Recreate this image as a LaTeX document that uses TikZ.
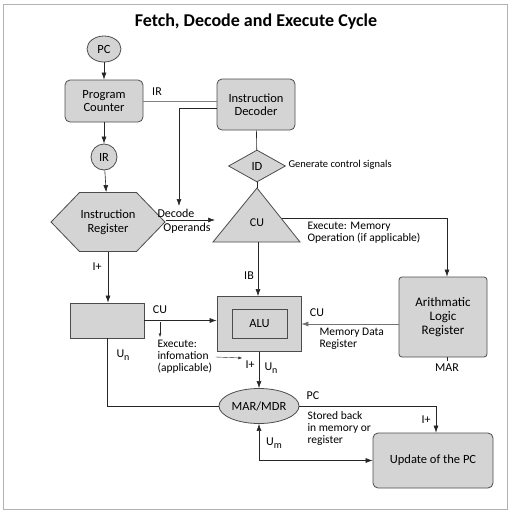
\documentclass[tikz,border=0pt]{standalone}
\usepackage{fontspec}
\setmainfont{Carlito}
\usetikzlibrary{shapes.geometric,shapes.symbols,arrows.meta}
\newcommand{\lowsub}[1]{\raisebox{-2.5pt}{\fontsize{10}{10}\selectfont #1}}

\begin{document}
\begin{tikzpicture}[x=1pt,y=-1pt,
    >={Latex[length=7pt,width=5pt]},
    line/.style={black!85,semithick},
    tiny/.style={black!85,thin,-{Latex[length=3.5pt,width=3pt]}},
    shade/.style={draw=black!70,fill=black!17,thick},
    blk/.style={shade,align=center,font=\fontsize{12.5}{13.5}\selectfont},
    rblk/.style={blk,rounded corners=5pt},
    lbl/.style={font=\fontsize{12}{13}\selectfont},
    note/.style={font=\fontsize{11.5}{12}\selectfont,align=left}]
  \useasboundingbox (0,0) rectangle (512,512);
  \draw[black!30,thick] (3,4) rectangle (507,509);
  \node[font=\bfseries\fontsize{18}{20}\selectfont] (title) at (256,22) {Fetch, Decode and Execute Cycle};

  \node[blk,ellipse,minimum width=34pt,minimum height=26pt,inner sep=1pt] (pc) at (104,49) {PC};
  \node[rblk,minimum width=78pt,minimum height=42pt] (prog) at (104,101) {Program\\Counter};
  \node[rblk,minimum width=78pt,minimum height=51pt] (dec) at (256,104.5) {Instruction\\Decoder};
  \node[blk,circle,minimum size=26pt,inner sep=1pt] (ir) at (104,157) {IR};
  \node[blk,signal,signal to=east and west,signal pointer angle=92,minimum width=93pt,minimum height=59pt,inner sep=1pt] (ireg) at (108,222) {Instruction\\Register};
  \node[blk,diamond,aspect=1.8,minimum width=57pt,minimum height=32pt,inner sep=0pt] (id) at (257,166) {ID};
  \draw[shade] (257,188) coordinate (cuA) -- (300,242) coordinate (cuR) -- (213,242) coordinate (cuL) -- cycle;
  \node[lbl] (cu) at (257,223) {CU};
  \node[shade,minimum width=84pt,minimum height=55pt] (alu) at (259,324) {};
  \node[blk,minimum width=55pt,minimum height=29pt] (aluin) at (259.5,324) {ALU};
  \node[blk,rounded corners=3pt,minimum width=88pt,minimum height=80pt,font=\fontsize{13}{14}\selectfont] (alr) at (443,317) {Arithmatic\\Logic\\Register};
  \node[shade,minimum width=74pt,minimum height=35pt] (box) at (107,320.5) {};
  \node[blk,ellipse,minimum width=80pt,minimum height=35pt,inner sep=0pt] (mar) at (259,406) {MAR/MDR};
  \node[rblk,minimum width=120pt,minimum height=55pt] (upd) at (433,460.5) {Update of the PC};

  \coordinate (opTop) at (179,206);
  \coordinate (opIn) at (215,220);
  \coordinate (cuOut) at (282,218);
  \coordinate (cuBase) at (258,242);
  \coordinate (exA) at (160,322);

  \draw[line,->] (pc) -- (prog);
  \draw[line,black!50] (prog.east) -- (prog.east -| dec.west);
  \draw[line,->] ([yshift=-3.5pt]dec.west) -| (opTop);
  \draw[line,->] (prog) -- (ir);
  \draw[line,->] (ir) -- (ireg);
  \draw[line,->] (opIn -| ireg.east) -- (opIn);
  \draw[line] (dec) -- (id);
  \draw[line] (id) -- (cuA);
  \draw[line,->] (cuOut) -| ([xshift=4pt]alr.north);
  \draw[line,->] (cuBase) -- (cuBase |- alu.north);
  \draw[line,->] (ireg.south) -- (ireg.south |- box.north);
  \draw[line,->] (box.east) -- (box.east -| alu.west);
  \draw[tiny] (exA) -- ++(0,15);
  \draw[line,black!55,->] (alu.east -| alr.west) -- (alu.east);
  \draw[line] ([xshift=4pt]alr.south) -- ++(0,4);
  \draw[line,->] (alu) -- (mar);
  \draw[line] (box.south) |- (mar.west);
  \draw[line,->] (mar.east) -| ([xshift=3pt]upd.north);
  \draw[line,<->] (mar.south) |- (upd.west);

  \node[lbl] (irl) at (157,92) {IR};
  \node[note,font=\fontsize{12}{13}\selectfont] (decl) at (176,213) {Decode};
  \node[note,font=\fontsize{12}{13}\selectfont] (opl) at (187,228) {Operands};
  \node[note,anchor=west,font=\fontsize{10.5}{12}\selectfont] (genl) at (285,165) {Generate control signals};
  \node[note,anchor=west] (exml) at (304,233) {Execute: Memory\\Operation (if applicable)};
  \node[lbl] (ibl) at (249,276) {IB};
  \node[lbl] (cul) at (160,310) {CU};
  \node[lbl] (cur) at (317,313) {CU};
  \node[note,anchor=west] (mdrl) at (316,338.5) {Memory Data\\Register};
  \node[lbl] (marl) at (447,368) {MAR};
  \node[lbl] (ipl) at (97,267) {I+};
  \node[lbl] (unl) at (123,355) {U\lowsub{n}};
  \node[note,anchor=west] (exe) at (154,357) {Execute:\\infomation\\(applicable)};
  \draw[tiny] (exe.east) -- (242,358) coordinate (exI);
  \node[lbl] (iel) at (250,365) {I+};
  \node[lbl] (unr) at (271,368) {U\lowsub{n}};
  \node[lbl] (pcl) at (313,396) {PC};
  \node[lbl] (irr) at (426,420) {I+};
  \node[note,anchor=west] (stl) at (304,428) {Stored back\\in memory or\\register};
  \node[lbl] (uml) at (274,443) {U\lowsub{m}};
\end{tikzpicture}
\end{document}
